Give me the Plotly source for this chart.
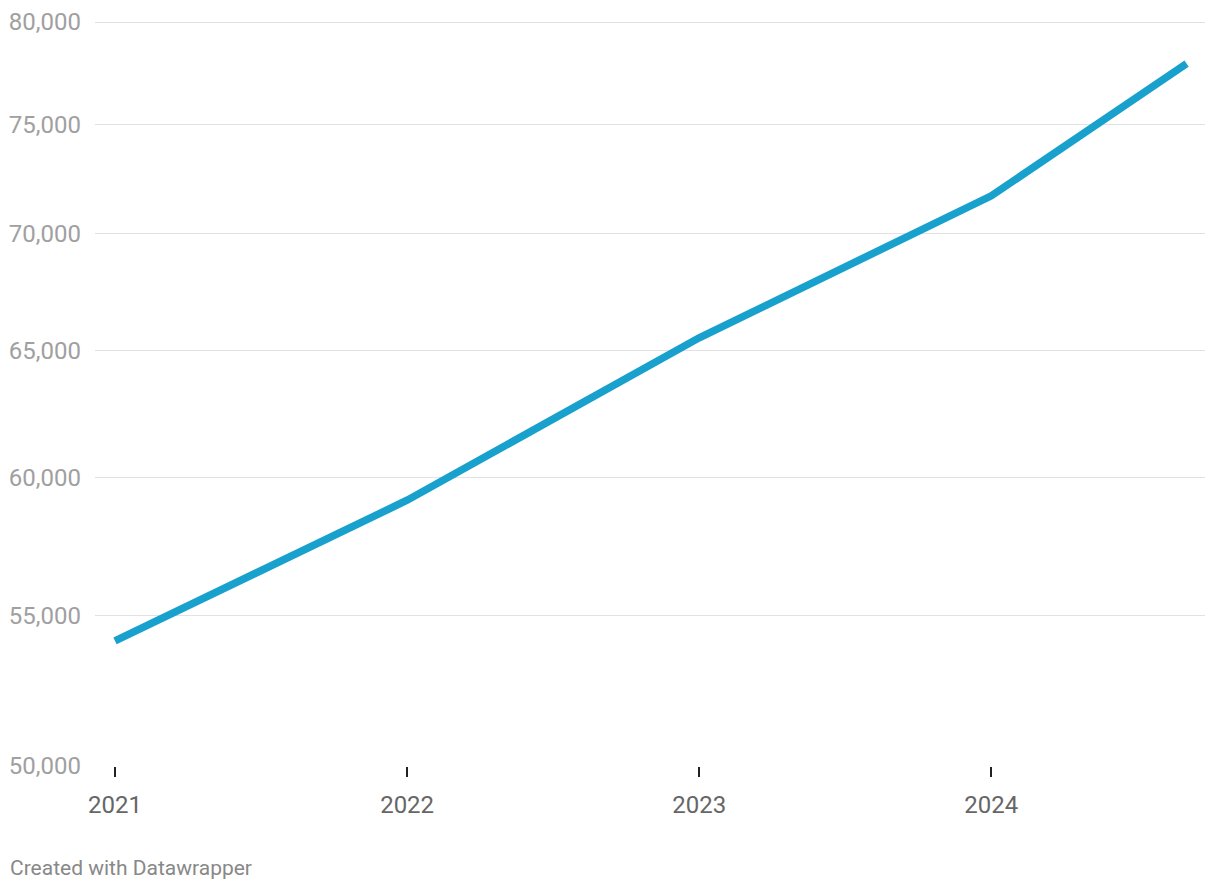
import plotly.graph_objects as go
import math

dates = ["2021-01-01", "2022-01-01", "2023-01-01", "2024-01-01", "2024-09-01"]
values = [54110, 59140, 65530, 71680, 77920]
y_ticks = [50000, 55000, 60000, 65000, 70000, 75000, 80000]
y_tick_labels = ["50,000", "55,000", "60,000", "65,000", "70,000", "75,000", "80,000"]
x_ticks = ["2021-01-01", "2022-01-01", "2023-01-01", "2024-01-01"]
x_tick_labels = ["2021", "2022", "2023", "2024"]

fig = go.Figure()
fig.add_trace(go.Scatter(
    x=dates, y=values, mode="lines",
    line=dict(color="#18a1cd", width=7.5),
    hoverinfo="skip",
))

fig.update_layout(
    width=1220, height=892,
    margin=dict(l=87, r=23, t=12, b=134),
    paper_bgcolor="white", plot_bgcolor="white",
    showlegend=False,
    font=dict(family="Roboto, sans-serif"),
)
fig.update_xaxes(
    type="date", automargin=False,
    range=["2020-12-07", "2024-09-24"],
    tickvals=x_ticks, ticktext=x_tick_labels,
    ticks="outside", ticklen=10, tickwidth=2, tickcolor="#222",
    showgrid=False, zeroline=False, showline=False,
    tickfont=dict(size=24, color="#666666"),
    ticklabelstandoff=7,
)
fig.update_yaxes(
    type="log", automargin=False,
    range=[math.log10(50000), math.log10(80000) + 0.00055],
    tickvals=y_ticks, ticktext=y_tick_labels,
    showgrid=True, gridcolor="#e2e2e2", gridwidth=1,
    zeroline=False, showline=False, ticks="",
    tickfont=dict(size=24, color="#a0a0a0"),
    ticklabelstandoff=13,
)
fig.add_annotation(
    text="Created with Datawrapper", xref="paper", yref="paper",
    x=0, y=0, xanchor="left", yanchor="middle", showarrow=False,
    xshift=-87, yshift=-102,
    font=dict(size=21, color="#888888", family="Roboto, sans-serif"),
)
fig.write_html("out.html")
